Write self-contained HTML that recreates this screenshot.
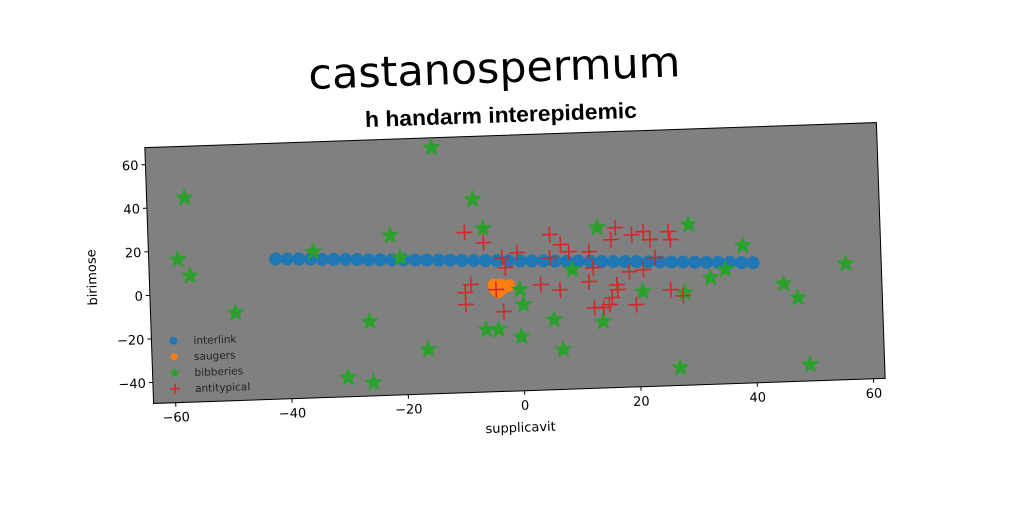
<!DOCTYPE html>
<html><head><meta charset="utf-8"><style>
html,body{margin:0;padding:0;background:#fff;}
svg{display:block;font-family:"DejaVu Sans","Liberation Sans",sans-serif;}
</style></head><body>
<svg id="chart" width="1024" height="512" viewBox="0 0 1024 512">
<g id="rot" transform="rotate(-1.96 515 263)">
<text x="501" y="82" text-anchor="middle" font-size="42" textLength="372" lengthAdjust="spacingAndGlyphs" font-family="'Comic Sans MS','DejaVu Sans',sans-serif" fill="#000">castanospermum</text>
<text x="506" y="122" text-anchor="middle" font-size="22" font-weight="bold" textLength="272" lengthAdjust="spacingAndGlyphs" font-family="'Liberation Sans Narrow','Liberation Sans',sans-serif" fill="#000">h handarm interepidemic</text>
<rect x="149" y="135" width="732" height="256" fill="#808080" stroke="#000" stroke-width="1"/>
<g id="axes"></g>
<g id="marks"></g>
<g id="legend"></g>
<text x="515" y="432" text-anchor="middle" font-size="13" fill="#000">supplicavit</text>
<text transform="translate(96 263) rotate(-90)" text-anchor="middle" font-size="13" fill="#000">birimose</text>
</g>
</svg>
<script>
const xTicks=[-60,-40,-20,0,20,40,60];
const yTicks=[-40,-20,0,20,40,60];
const interlinkX=[-42,-40,-38,-36,-34,-32,-30,-28,-26,-24,-22,-20,-18,-16,-14,-12,-10,-8,-6,-4,-2,0,2,4,6,8,10,12,14,16,18,20,22,24,26,28,30,32,34,36,38,40];
const interlinkY=[14.7,14.5,14.3,14.1,13.8,13.6,13.4,13.2,12.9,12.7,12.5,12.3,12.0,11.8,11.6,11.4,11.1,10.9,10.7,10.5,10.2,10.0,9.8,9.6,9.3,9.1,8.9,8.7,8.4,8.2,8.0,7.8,7.5,7.3,7.1,6.9,6.6,6.4,6.2,6.0,5.7,5.5];
const saugersX=[-4.5,-3.5,-2.5,-4,-3,-2,-4.7,-3.7];
const saugersY=[-2.5,-0.5,-1.5,-4,-2,-1,-0.5,-3.5];
const bibberiesX=[-14.6,-57.3,-7.8,-58.8,-56.8,-49.2,-35.5,-22.2,-20.6,-6.2,-26.2,-16.3,-30.2,-25.9,-6.2,-4.1,-0.2,0.3,-0.2,5.5,6.9,8.9,13.4,13.9,20.9,26.9,28.1,29.1,32.6,35.2,38.3,45.1,47.5,49.2,55.9];
const bibberiesY=[63.3,44.2,38.9,15.9,8.3,-9.3,17.4,23.6,13.3,25.4,-15.5,-29.3,-40.8,-43.5,-21,-21.2,-24.8,-10.1,-3.2,-17.5,-31.4,5.1,24,-19.2,-6.1,-41.5,-7.2,24,-0.7,2.8,13.5,-4.6,-11.2,-42.1,3.6];
const antitypicalX=[-9.4,-6.2,-8.6,-9.6,-9.6,-3.1,-0.5,-2.6,-4.3,-3.1,5.2,5.1,7.0,8.4,3.4,6.7,11.9,12.5,11.7,16.5,15.7,19.3,21.3,22.4,25.6,25.9,23.2,21.1,18.7,16.5,15.6,12.5,14.1,15.1,16.6,19.7,25.7,27.8];
const antitypicalY=[23.9,18.9,-0.1,-3.7,-9.2,11.7,13.8,7.1,-2.8,-13,21.6,11,16.8,13.4,-1.2,-3.9,13.1,5.7,-0.6,23.7,18.3,20.2,21.5,17.7,21.1,17.4,9.4,4,3.3,-2.5,-8.3,-12.6,-12.8,-11.5,-4.7,-11.9,-5.6,-8.5];
const legendLabels=["interlink","saugers","bibberies","antitypical"];

const NS="http://www.w3.org/2000/svg";
const PX0=149,PX1=881,PY0=135,PY1=391,XMIN=-63.8,XMAX=62,YMIN=-49.6,YMAX=67.8;
function sx(v){return PX0+(v-XMIN)/(XMAX-XMIN)*(PX1-PX0);}
function sy(v){return PY1-(v-YMIN)/(YMAX-YMIN)*(PY1-PY0);}
function mk(tag,attrs,parent){const e=document.createElementNS(NS,tag);for(const k in attrs)e.setAttribute(k,attrs[k]);parent.appendChild(e);return e;}
const axes=document.getElementById('axes'),marks=document.getElementById('marks'),legend=document.getElementById('legend');
xTicks.forEach(t=>{
  const l=mk('line',{x1:sx(t),x2:sx(t),y1:PY1,y2:PY1+4,stroke:'#000'},axes);
  
  
  const tx=mk('text',{x:sx(t),y:PY1+19,'text-anchor':'middle','font-size':13,fill:'#000'},axes);
  tx.textContent=t<0?'\u2212'+(-t):String(t);
  
  
});
yTicks.forEach(t=>{
  const l=mk('line',{x1:PX0-4,x2:PX0,y1:sy(t),y2:sy(t),stroke:'#000'},axes);
  
  
  const tx=mk('text',{x:PX0-7,y:sy(t)+5,'text-anchor':'end','font-size':13,fill:'#000'},axes);
  tx.textContent=t<0?'\u2212'+(-t):String(t);
  
  
});
function star(cx,cy,r,parent){
  let p=[];for(let i=0;i<10;i++){const a=-Math.PI/2+i*Math.PI/5;const rr=i%2?r*0.42:r;p.push((cx+rr*Math.cos(a)).toFixed(1)+','+(cy+rr*Math.sin(a)).toFixed(1));}
  return mk('polygon',{points:p.join(' '),fill:'#2ca02c'},parent);
}
function plus(cx,cy,r,parent){
  return mk('path',{d:`M${cx-r},${cy}H${cx+r}M${cx},${cy-r}V${cy+r}`,stroke:'#d62728','stroke-width':1.6,fill:'none'},parent);
}
interlinkX.forEach((v,i)=>{
  const c=mk('circle',{cx:sx(v),cy:sy(interlinkY[i]),r:6.5,fill:'#1f77b4'},marks);
  
  
});
saugersX.forEach((v,i)=>{
  const c=mk('circle',{cx:sx(v),cy:sy(saugersY[i]),r:6,fill:'#ff7f0e'},marks);
  
  
});
bibberiesX.forEach((v,i)=>{
  const s=star(sx(v),sy(bibberiesY[i]),10,marks);
  
  
});
antitypicalX.forEach((v,i)=>{
  const p=plus(sx(v),sy(antitypicalY[i]),8,marks);
  
  
});
legendLabels.forEach((lab,i)=>{
  const ly=PY1-62+i*16,lx=PX0+22;
  let m;
  if(i===0)m=mk('circle',{cx:lx,cy:ly,r:4,fill:'#1f77b4'},legend);
  else if(i===1)m=mk('circle',{cx:lx,cy:ly,r:3.5,fill:'#ff7f0e'},legend);
  else if(i===2)m=star(lx,ly,6,legend);
  else m=plus(lx,ly,5,legend);
  
  
  const t=mk('text',{x:lx+20,y:ly+4,'font-size':10.5,fill:'#222'},legend);
  t.textContent=lab;
  
  
});
</script>
</body></html>
